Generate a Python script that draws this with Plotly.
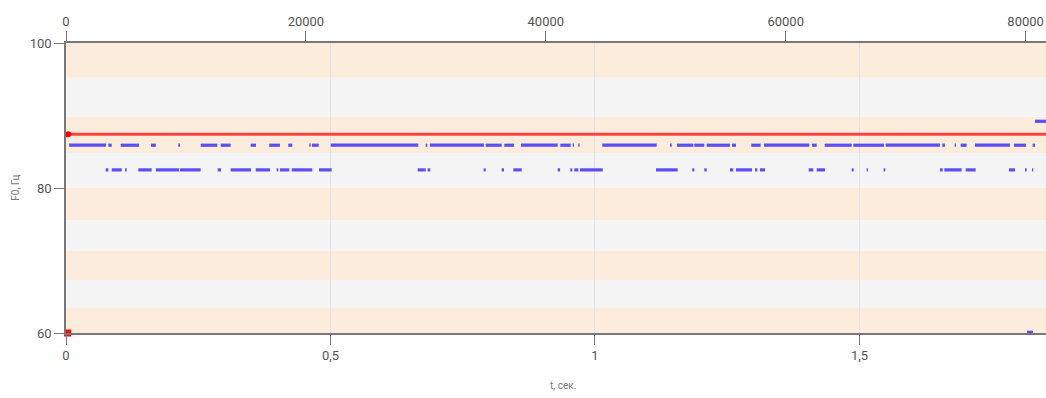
import plotly.graph_objects as go

# Sampling rate of the recording (top axis shows sample index)
sample_rate = 44100
duration = 1.8526  # seconds shown on the bottom axis

# F0 levels (Hz)
f0_ref = 87.4      # reference pitch line
f0_upper = 85.9
f0_lower = 82.5
f0_high = 89.2
f0_low = 60.1

# Voiced segments (start, end) in seconds for each F0 level
upper_segments = [
    (0.006, 0.0756), (0.080, 0.0864), (0.1034, 0.138), (0.1607, 0.170),
    (0.2123, 0.2155), (0.2546, 0.286), (0.2924, 0.3113), (0.3491, 0.3592),
    (0.3843, 0.4045), (0.4202, 0.4278), (0.4599, 0.4626), (0.465, 0.4777),
    (0.5004, 0.666), (0.680, 0.683), (0.688, 0.790), (0.7934, 0.8236),
    (0.8285, 0.8469), (0.860, 0.9295), (0.9344, 0.954), (0.9578, 0.9603),
    (0.9684, 0.971), (1.0138, 1.1166), (1.1418, 1.145), (1.155, 1.1858),
    (1.1877, 1.2066), (1.2111, 1.2552), (1.259, 1.2665), (1.2955, 1.3132),
    (1.3195, 1.4051), (1.4102, 1.4191), (1.4342, 1.4853), (1.4883, 1.5463),
    (1.5495, 1.6522), (1.6565, 1.6616), (1.680, 1.6824), (1.6913, 1.7026),
    (1.7183, 1.7845), (1.7921, 1.8147), (1.8274, 1.8318),
]

lower_segments = [
    (0.075, 0.080), (0.0864, 0.1053), (0.1115, 0.1147), (0.1367, 0.162),
    (0.170, 0.2136), (0.2155, 0.2546), (0.2868, 0.293), (0.3113, 0.3497),
    (0.3586, 0.3856), (0.3983, 0.4013), (0.4045, 0.4221), (0.4267, 0.4656),
    (0.4783, 0.5023), (0.6648, 0.680), (0.6837, 0.6887), (0.7896, 0.7934),
    (0.8236, 0.828), (0.8456, 0.8614), (0.9295, 0.934), (0.9533, 0.9571),
    (0.9609, 0.9684), (0.9716, 1.0146), (1.1153, 1.1563), (1.1839, 1.1877),
    (1.2066, 1.2111), (1.2552, 1.2614), (1.2665, 1.2968), (1.3025, 1.3068),
    (1.3119, 1.3214), (1.404, 1.4127), (1.4191, 1.4348), (1.4853, 1.489),
    (1.5136, 1.516), (1.5457, 1.5488), (1.6522, 1.6573), (1.6603, 1.6932),
    (1.7008, 1.7197), (1.7826, 1.794), (1.8129, 1.816), (1.8261, 1.8285),
]

high_segments = [(1.8318, 1.853)]
low_segments = [(1.8166, 1.828)]

y_range = [60, 100]
bottom_ticks = [0, 0.5, 1, 1.5]
bottom_labels = ["0", "0,5", "1", "1,5"]
top_ticks = [0, 20000, 40000, 60000, 80000]
y_ticks = [60, 80, 100]

BLUE = "#5b4dff"
RED = "rgba(255,40,40,0.85)"
ORANGE_BAND = "#fbecdc"
GRAY_BAND = "#f4f4f4"
FONT_FAMILY = "Liberation Sans Narrow, Roboto, sans-serif"
TICK_FONT = dict(family=FONT_FAMILY, size=13, color="#555")


def segments_to_xy(segs, level):
    xs, ys = [], []
    for a, b in segs:
        xs += [a, b, None]
        ys += [level, level, None]
    return xs, ys


fig = go.Figure()

# Semitone bands (A4 = 440 Hz), edges half a semitone around each note
shapes = []
for k in range(-35, -24):
    lo = 440 * 2 ** ((k - 0.5) / 12)
    hi = 440 * 2 ** ((k + 0.5) / 12)
    lo_c, hi_c = max(lo, y_range[0]), min(hi, y_range[1])
    if hi_c <= lo_c:
        continue
    shapes.append(dict(type="rect", xref="paper", yref="y", x0=0, x1=1,
                       y0=lo_c, y1=hi_c, line=dict(width=0),
                       fillcolor=ORANGE_BAND if k % 2 == 0 else GRAY_BAND,
                       layer="below"))

for segs, level in [(upper_segments, f0_upper), (lower_segments, f0_lower),
                    (high_segments, f0_high), (low_segments, f0_low)]:
    xs, ys = segments_to_xy(segs, level)
    fig.add_trace(go.Scatter(x=xs, y=ys, mode="lines",
                             line=dict(color=BLUE, width=3.2),
                             hoverinfo="skip", showlegend=False,
                             cliponaxis=False))

# Reference pitch line
fig.add_trace(go.Scatter(x=[0.004, duration], y=[f0_ref, f0_ref],
                         mode="lines+markers",
                         line=dict(color=RED, width=3),
                         marker=dict(color=["red", "rgba(0,0,0,0)"], size=6),
                         showlegend=False))
fig.add_trace(go.Scatter(x=[0.003], y=[60], mode="markers",
                         marker=dict(color="red", size=7, symbol="square"),
                         cliponaxis=False, showlegend=False))

# Invisible trace to drive the sample-index axis on top
fig.add_trace(go.Scatter(x=[0, duration * sample_rate], y=[None, None],
                         xaxis="x2", mode="lines", showlegend=False,
                         hoverinfo="skip"))

axis_common = dict(showline=True, linecolor="#777", linewidth=1.5,
                   ticks="outside", ticklen=10, tickcolor="#777",
                   tickfont=TICK_FONT, zeroline=False)

fig.update_layout(
    width=1046, height=398,
    margin=dict(l=66, r=0, t=43, b=65),
    plot_bgcolor="white", paper_bgcolor="white",
    shapes=shapes,
    xaxis=dict(range=[0, duration], tickvals=bottom_ticks, ticktext=bottom_labels,
               showgrid=True, gridcolor="#e2e2e2", gridwidth=1,
               **axis_common),
    xaxis2=dict(range=[0, duration * sample_rate], overlaying="x", side="top",
                tickvals=top_ticks, ticktext=[str(v) for v in top_ticks],
                showgrid=False, anchor="y", **axis_common),
    yaxis=dict(range=y_range, tickvals=y_ticks, showgrid=False,
               **axis_common),
    annotations=[
        dict(text="F0, Гц", xref="paper", yref="paper", x=-0.06, y=0.5,
             textangle=-90, showarrow=False,
             font=dict(family=FONT_FAMILY, size=10, color="#777")),
        dict(text="t, сек.", xref="paper", yref="paper", x=0.507, y=-0.207,
             showarrow=False,
             font=dict(family=FONT_FAMILY, size=10, color="#777")),
    ],
)

fig.write_html("out.html")
